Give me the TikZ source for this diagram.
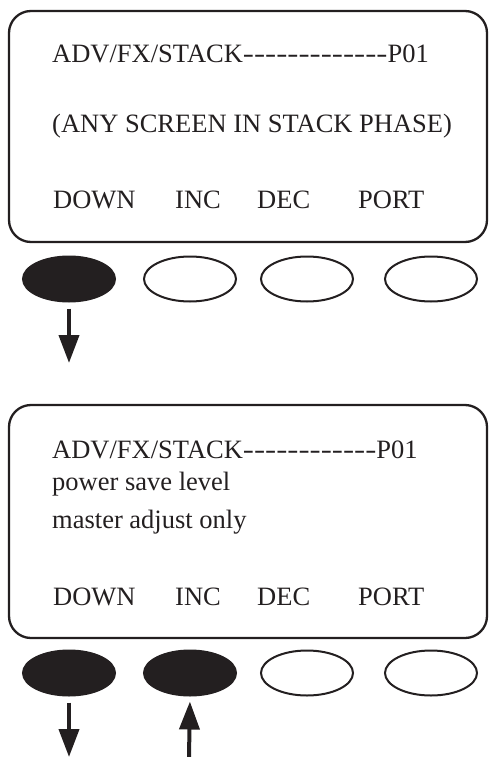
\documentclass[tikz,border=0pt]{standalone}
\usepackage{fontspec}
\setmainfont{Liberation Serif}[Ligatures=TeXOff]
\usepackage{graphicx}
\usepackage{tikz}
\usetikzlibrary{arrows.meta,shapes.geometric}
\definecolor{lcdblack}{rgb}{0.1372549019607843,0.1215686274509804,0.1254901960784314}
\newcommand{\lcdrule}[1]{\scalebox{1.26}[1]{#1}}

\tikzset{
  screen/.style={draw=lcdblack,line width=2.3pt,rounded corners=22pt},
  lcdtxt/.style={anchor=base west,inner sep=0pt,text=lcdblack,font=\fontsize{26.5}{32}\selectfont},
  keyup/.style={ellipse,draw=lcdblack,line width=2pt,minimum width=92pt,minimum height=45pt,inner sep=0pt},
  keydown/.style={keyup,fill=lcdblack},
  press/.style={draw=lcdblack,line width=4pt,-{Triangle[width=20pt,length=28pt]}}
}

\begin{document}
\begin{tikzpicture}[x=1pt,y=-1pt]
			\useasboundingbox (0,0) rectangle (488,757);
			% first screen
			\draw[screen] (9,11) rectangle (487,242);
			\node[lcdtxt] (s1a) at (52,63) {ADV/FX/STACK\lcdrule{-------------}P01};
			\node[lcdtxt] (s1b) at (52,132) {(ANY SCREEN IN STACK PHASE)};
			\node[lcdtxt] (s1down) at (53,208) {DOWN};
			\node[lcdtxt] (s1inc) at (175,208) {INC};
			\node[lcdtxt] (s1dec) at (257,208) {DEC};
			\node[lcdtxt] (s1port) at (358,208) {PORT};
			\node[keydown] (k1a) at (69,279) {};
			\node[keyup] (k1b) at (190,279) {};
			\node[keyup] (k1c) at (307,279) {};
			\node[keyup] (k1d) at (431,279) {};
			\coordinate (d1) at (69,363);
			\draw[press,shorten <=6pt] (k1a.south) -- (d1);
			% second screen
			\draw[screen] (9,405) rectangle (487,638);
			\node[lcdtxt] (s2a) at (52,458) {ADV/FX/STACK\lcdrule{------------}P01};
			\node[lcdtxt] (s2b) at (52,490) {power save level};
			\node[lcdtxt] (s2c) at (52,528) {master adjust only};
			\node[lcdtxt] (s2down) at (53,605) {DOWN};
			\node[lcdtxt] (s2inc) at (175,605) {INC};
			\node[lcdtxt] (s2dec) at (257,605) {DEC};
			\node[lcdtxt] (s2port) at (358,605) {PORT};
			\node[keydown] (k2a) at (69,673) {};
			\node[keydown] (k2b) at (190,673) {};
			\node[keyup] (k2c) at (307,673) {};
			\node[keyup] (k2d) at (431,673) {};
			\coordinate (d2) at (69,757);
			\coordinate (u2) at (189,757);
			\draw[press,shorten <=6pt] (k2a.south) -- (d2);
			\draw[press,shorten >=5pt] (u2) -- (k2b.south);
\end{tikzpicture}
\end{document}
